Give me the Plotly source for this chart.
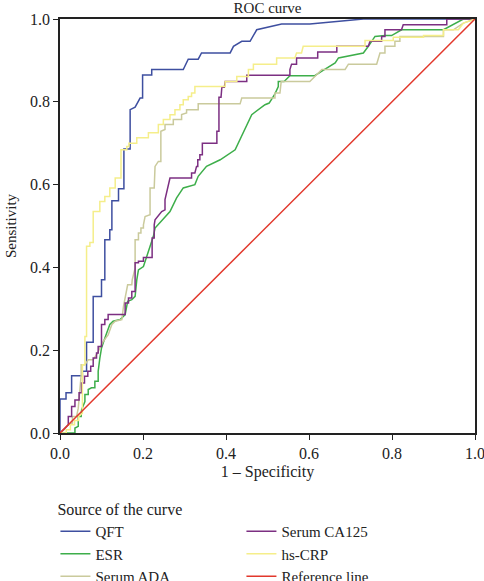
import plotly.graph_objects as go

# ---- data ----
qft_x = [0, 0, 0.0145, 0.0145, 0.028, 0.028, 0.054, 0.054, 0.064, 0.064, 0.080, 0.080, 0.100, 0.100,
         0.108, 0.108, 0.120, 0.120, 0.125, 0.125, 0.141, 0.141, 0.154, 0.154, 0.169, 0.169, 0.181,
         0.186, 0.193, 0.199, 0.199, 0.221, 0.221, 0.297, 0.309, 0.333, 0.341, 0.410, 0.418, 0.438,
         0.458, 0.474, 0.534, 0.602, 0.731, 1.0]
qft_y = [0, 0.082, 0.082, 0.097, 0.097, 0.138, 0.138, 0.149, 0.149, 0.219, 0.219, 0.330, 0.330, 0.370,
         0.370, 0.467, 0.467, 0.491, 0.491, 0.561, 0.561, 0.590, 0.590, 0.686, 0.686, 0.781, 0.787,
         0.795, 0.809, 0.809, 0.865, 0.865, 0.878, 0.878, 0.903, 0.903, 0.918, 0.918, 0.934, 0.946,
         0.946, 0.974, 0.988, 0.988, 1.0, 1.0]

esr_x = [0, 0.036, 0.036, 0.044, 0.044, 0.051, 0.052, 0.060, 0.060, 0.068, 0.068, 0.076, 0.084, 0.084,
         0.092, 0.092, 0.096, 0.100, 0.108, 0.116, 0.120, 0.128, 0.145, 0.157, 0.163, 0.173, 0.181,
         0.185, 0.189, 0.201, 0.209, 0.217, 0.225, 0.229, 0.253, 0.265, 0.281, 0.297, 0.325, 0.333,
         0.353, 0.386, 0.422, 0.458, 0.462, 0.494, 0.504, 0.518, 0.526, 0.526, 0.540, 0.554, 0.614,
         0.631, 0.663, 0.671, 0.731, 0.743, 0.759, 0.783, 0.799, 0.823, 0.924, 0.972, 1.0]
esr_y = [0, 0, 0.012, 0.016, 0.040, 0.040, 0.056, 0.076, 0.093, 0.093, 0.105, 0.109, 0.109, 0.125,
         0.125, 0.149, 0.181, 0.205, 0.229, 0.254, 0.262, 0.270, 0.274, 0.286, 0.318, 0.322, 0.330,
         0.370, 0.394, 0.402, 0.427, 0.447, 0.475, 0.495, 0.523, 0.535, 0.568, 0.592, 0.600, 0.620,
         0.644, 0.660, 0.684, 0.757, 0.769, 0.793, 0.797, 0.819, 0.837, 0.849, 0.849, 0.863, 0.863,
         0.874, 0.894, 0.906, 0.918, 0.934, 0.958, 0.960, 0.960, 0.974, 0.974, 1.0, 1.0]

ada_x = [0, 0.010, 0.020, 0.030, 0.030, 0.040, 0.044, 0.048, 0.051, 0.051, 0.060, 0.068, 0.080, 0.088,
         0.104, 0.116, 0.125, 0.133, 0.149, 0.153, 0.161, 0.163, 0.173, 0.174, 0.181, 0.181, 0.189,
         0.189, 0.195, 0.195, 0.201, 0.201, 0.205, 0.217, 0.217, 0.227, 0.229, 0.237, 0.243, 0.243,
         0.253, 0.253, 0.273, 0.273, 0.293, 0.293, 0.305, 0.305, 0.333, 0.333, 0.434, 0.438, 0.518,
         0.518, 0.530, 0.533, 0.602, 0.614, 0.631, 0.687, 0.695, 0.763, 0.767, 0.771, 0.783, 0.783,
         0.807, 0.807, 0.819, 0.819, 0.924, 0.924, 0.948, 0.972, 1.0]
ada_y = [0, 0.008, 0.020, 0.024, 0.040, 0.040, 0.060, 0.100, 0.140, 0.165, 0.165, 0.177, 0.177, 0.189,
         0.221, 0.237, 0.262, 0.270, 0.274, 0.306, 0.346, 0.358, 0.358, 0.370, 0.398, 0.467, 0.467,
         0.483, 0.483, 0.495, 0.495, 0.503, 0.523, 0.527, 0.592, 0.592, 0.644, 0.656, 0.656, 0.729,
         0.733, 0.745, 0.745, 0.757, 0.757, 0.769, 0.773, 0.781, 0.781, 0.795, 0.795, 0.809, 0.809,
         0.821, 0.821, 0.849, 0.849, 0.861, 0.878, 0.878, 0.891, 0.891, 0.906, 0.918, 0.918, 0.934,
         0.934, 0.946, 0.946, 0.958, 0.958, 0.974, 0.974, 0.990, 1.0]

ca125_x = [0, 0.008, 0.020, 0.020, 0.028, 0.028, 0.036, 0.036, 0.046, 0.046, 0.052, 0.052, 0.059, 0.059,
           0.067, 0.067, 0.074, 0.074, 0.080, 0.080, 0.088, 0.088, 0.092, 0.092, 0.100, 0.100, 0.108,
           0.108, 0.116, 0.116, 0.157, 0.157, 0.165, 0.165, 0.173, 0.173, 0.181, 0.181, 0.189, 0.189,
           0.201, 0.201, 0.222, 0.222, 0.227, 0.227, 0.229, 0.245, 0.253, 0.253, 0.261, 0.265, 0.317,
           0.317, 0.325, 0.329, 0.332, 0.332, 0.337, 0.337, 0.343, 0.343, 0.378, 0.378, 0.383, 0.383,
           0.388, 0.390, 0.396, 0.398, 0.450, 0.450, 0.554, 0.554, 0.558, 0.570, 0.570, 0.621, 0.621,
           0.667, 0.667, 0.743, 0.747, 0.775, 0.775, 0.783, 0.783, 0.823, 0.827, 0.932, 0.932, 1.0]
ca125_y = [0, 0.008, 0.020, 0.040, 0.040, 0.064, 0.064, 0.080, 0.080, 0.097, 0.097, 0.121, 0.121, 0.137,
           0.137, 0.149, 0.149, 0.161, 0.161, 0.181, 0.181, 0.193, 0.193, 0.209, 0.209, 0.262, 0.262,
           0.274, 0.274, 0.286, 0.286, 0.314, 0.314, 0.326, 0.326, 0.342, 0.342, 0.411, 0.411, 0.415,
           0.415, 0.424, 0.424, 0.471, 0.471, 0.503, 0.515, 0.535, 0.539, 0.564, 0.604, 0.616, 0.616,
           0.628, 0.628, 0.644, 0.644, 0.660, 0.660, 0.672, 0.672, 0.700, 0.700, 0.729, 0.729, 0.811,
           0.811, 0.835, 0.835, 0.849, 0.849, 0.864, 0.864, 0.878, 0.891, 0.891, 0.906, 0.906, 0.920,
           0.920, 0.934, 0.934, 0.946, 0.946, 0.958, 0.958, 0.974, 0.974, 0.986, 0.986, 1.0, 1.0]

crp_x = [0, 0.015, 0.015, 0.025, 0.025, 0.035, 0.035, 0.045, 0.045, 0.054, 0.054, 0.060, 0.060, 0.064,
         0.064, 0.072, 0.072, 0.080, 0.080, 0.096, 0.096, 0.108, 0.108, 0.120, 0.120, 0.133, 0.133,
         0.147, 0.147, 0.161, 0.161, 0.166, 0.166, 0.185, 0.185, 0.213, 0.213, 0.237, 0.237, 0.249,
         0.249, 0.265, 0.265, 0.277, 0.277, 0.289, 0.289, 0.297, 0.297, 0.309, 0.309, 0.317, 0.317,
         0.325, 0.325, 0.398, 0.398, 0.426, 0.426, 0.454, 0.454, 0.466, 0.466, 0.522, 0.522, 0.566,
         0.570, 0.582, 0.586, 0.735, 0.735, 0.803, 0.803, 0.876, 0.876, 0.924, 0.924, 0.960, 0.972, 1.0]
crp_y = [0, 0, 0.008, 0.008, 0.020, 0.020, 0.030, 0.030, 0.040, 0.048, 0.165, 0.165, 0.233, 0.233,
         0.451, 0.451, 0.460, 0.460, 0.535, 0.535, 0.559, 0.559, 0.571, 0.571, 0.592, 0.592, 0.616,
         0.616, 0.684, 0.684, 0.692, 0.692, 0.700, 0.700, 0.713, 0.713, 0.725, 0.725, 0.745, 0.745,
         0.757, 0.757, 0.769, 0.769, 0.781, 0.781, 0.793, 0.793, 0.805, 0.805, 0.813, 0.813, 0.821,
         0.821, 0.837, 0.837, 0.849, 0.849, 0.861, 0.861, 0.878, 0.878, 0.891, 0.891, 0.906, 0.906,
         0.918, 0.918, 0.934, 0.934, 0.948, 0.948, 0.956, 0.956, 0.960, 0.960, 0.974, 0.974, 0.990, 1.0]

ref_x = [0, 1]
ref_y = [0, 1]

series_names = ["QFT", "ESR", "Serum ADA", "Serum CA125", "hs-CRP", "Reference line"]
series_colors = ["#3E4FA0", "#3DAE4A", "#CACA9C", "#7C2F82", "#F5EE8A", "#E2382C"]
legend_ranks = [1, 3, 5, 2, 4, 6]
tick_vals = [0, 0.2, 0.4, 0.6, 0.8, 1.0]
tick_text = ["0.0", "0.2", "0.4", "0.6", "0.8", "1.0"]

FONT = "Liberation Serif"

fig = go.Figure()
all_x = [qft_x, esr_x, ada_x, ca125_x, crp_x, ref_x]
all_y = [qft_y, esr_y, ada_y, ca125_y, crp_y, ref_y]
for name, color, rank, xs, ys in zip(series_names, series_colors, legend_ranks, all_x, all_y):
    fig.add_trace(go.Scatter(x=xs, y=ys, mode="lines", name=name, legendrank=rank,
                             line=dict(color=color, width=1.5)))

axis_common = dict(range=[0, 1], tickvals=tick_vals, ticktext=tick_text, showgrid=False,
                   zeroline=False, showline=True, linecolor="#222222", linewidth=1.5,
                   mirror=True, ticks="outside", ticklen=5, tickcolor="#222222", tickwidth=1.2,
                   ticklabeloverflow="allow",
                   tickfont=dict(family=FONT, size=16, color="#222222"))

fig.update_layout(
    width=484, height=581,
    margin=dict(l=60, r=9, t=19, b=148, autoexpand=False),
    paper_bgcolor="white", plot_bgcolor="white",
    font=dict(family=FONT, size=15, color="#222222"),
    title=dict(text="ROC curve", x=(60 + 475) / 2 / 484, xanchor="center",
               y=1 - 8 / 581, yanchor="middle", font=dict(family=FONT, size=15, color="#222222")),
    xaxis=dict(**axis_common, title=dict(text="1 – Specificity", standoff=5,
                                         font=dict(family=FONT, size=16))),
    yaxis=dict(**axis_common, title=dict(text="Sensitivity", standoff=10,
                                         font=dict(family=FONT, size=15))),
    showlegend=True,
    legend=dict(orientation="h", x=-0.011, xanchor="left", y=-0.148, yanchor="top",
                entrywidth=141, entrywidthmode="pixels", traceorder="normal",
                title=dict(text="Source of the curve", side="top",
                           font=dict(family=FONT, size=16)),
                font=dict(family=FONT, size=15, color="#222222"),
                tracegroupgap=0, itemwidth=30, bgcolor="rgba(0,0,0,0)"),
)

fig.write_html("out.html", config={"displayModeBar": False},
               post_script="document.body.style.margin='0';document.body.style.overflow='hidden';")
